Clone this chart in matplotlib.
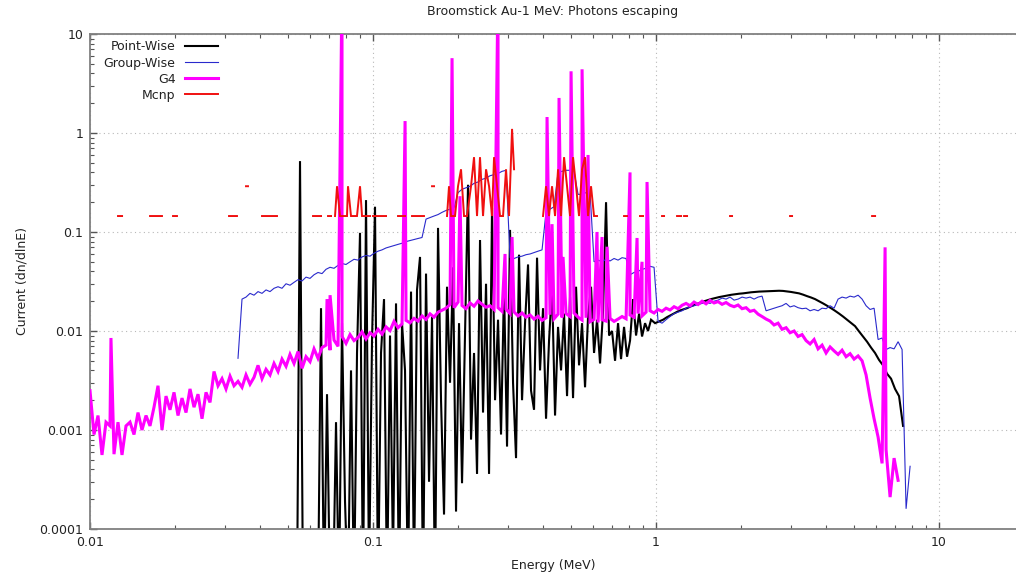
import numpy as np
import matplotlib
matplotlib.use("Agg")
import matplotlib.pyplot as plt
from matplotlib.ticker import LogLocator, NullFormatter, FixedLocator, FixedFormatter

TITLE = "Broomstick Au-1 MeV: Photons escaping"
X_LABEL = "Energy (MeV)"
Y_LABEL = "Current (dn/dlnE)"
SERIES_NAMES = ["Point-Wise", "Group-Wise", "G4", "Mcnp"]

X_TICKS = [0.01, 0.1, 1, 10]
X_TICK_LABELS = ["0.01", "0.1", "1", "10"]
Y_TICKS = [1e-4, 1e-3, 1e-2, 1e-1, 1, 10]
Y_TICK_LABELS = ["0.0001", "0.001", "0.01", "0.1", "1", "10"]
X_RANGE = (0.01, 18.7)
Y_RANGE = (1e-4, 10)

# ---------------- Point-Wise (log-uniform bins) ----------------
PW_LOW_E_FIRST, PW_LOW_E_LAST = 0.05388, 0.9602
PW_LOW = [
    2e-5, 0.52, 2e-5, 2e-5, 2e-5, 2e-5, 2e-5, 2e-5, 0.017, 2e-5,
    0.0023, 2e-5, 2e-5, 0.0012, 2e-5, 0.012, 1.9e-4, 2e-5, 0.004, 2e-5,
    0.006, 0.098, 2e-5, 0.21, 3e-5, 0.008, 0.18, 2e-5, 0.006, 0.021,
    2e-5, 0.009, 5e-5, 0.019, 2e-5, 0.012, 0.004, 2e-5, 0.025, 3e-5,
    0.026, 0.056, 2e-5, 0.038, 3e-4, 0.014, 2e-5, 0.11, 0.002, 1.4e-4,
    0.028, 0.003, 0.044, 1.5e-4, 0.012, 2.9e-4, 0.009, 0.3, 0.0008, 0.006,
    3.6e-4, 0.083, 0.0015, 0.03, 3.6e-4, 0.175, 0.002, 0.013, 0.0009, 0.028,
    6.8e-4, 0.105, 0.003, 5.2e-4, 0.059, 0.002, 0.012, 0.047, 0.0025, 0.0016,
    0.055, 0.004, 0.017, 0.0013, 0.008, 0.028, 0.0014, 0.011, 0.004, 0.015,
    0.0022, 0.022, 0.0021, 0.028, 0.0045, 0.012, 0.0027, 0.014, 0.028, 0.006,
    0.013, 0.0047, 0.016, 0.2, 0.009, 0.01, 0.005, 0.012, 0.0052, 0.011,
    0.0055, 0.008, 0.021, 0.009, 0.015, 0.0088, 0.012, 0.01, 0.013,
]
PW_HIGH_E_FIRST, PW_HIGH_E_LAST = 0.9919, 7.46
PW_HIGH = [
    0.012, 0.0125, 0.013, 0.0138, 0.0145, 0.0152, 0.016, 0.0165, 0.017, 0.0178,
    0.0185, 0.0191, 0.0198, 0.0204, 0.021, 0.0215, 0.022, 0.0224, 0.0228, 0.0232,
    0.0235, 0.0238, 0.024, 0.0243, 0.0246, 0.0248, 0.025, 0.0251, 0.0252, 0.0253,
    0.0254, 0.0255, 0.0254, 0.0251, 0.0248, 0.0244, 0.024, 0.0233, 0.0225, 0.0218,
    0.021, 0.020, 0.019, 0.018, 0.017, 0.016, 0.015, 0.014, 0.013, 0.0121,
    0.0112, 0.0099, 0.0088, 0.0078, 0.0068, 0.0060, 0.0051, 0.0045, 0.0037, 0.0033,
    0.0026, 0.0022, 0.0011,
]

# ---------------- Group-Wise (log-uniform bins) ----------------
GW_E_FIRST, GW_E_LAST = 0.03334, 7.90
GW = [
    0.0053, 0.021, 0.022, 0.024, 0.023, 0.025, 0.024, 0.026, 0.025, 0.027,
    0.028, 0.027, 0.030, 0.029, 0.031, 0.033, 0.032, 0.035, 0.034, 0.037,
    0.039, 0.038, 0.042, 0.044, 0.043, 0.046, 0.048, 0.047, 0.050, 0.053,
    0.052, 0.056, 0.058, 0.057, 0.061, 0.064, 0.066, 0.069, 0.071, 0.073,
    0.075, 0.077, 0.080, 0.082, 0.084, 0.086, 0.088, 0.135, 0.140, 0.145,
    0.150, 0.158, 0.165, 0.170, 0.175, 0.250, 0.270, 0.280, 0.290, 0.310,
    0.320, 0.340, 0.350, 0.370, 0.380, 0.390, 0.410, 0.420, 0.055, 0.054,
    0.056, 0.057, 0.059, 0.060, 0.062, 0.064, 0.066, 0.160, 0.170, 0.180,
    0.400, 0.410, 0.420, 0.420, 0.410, 0.240, 0.240, 0.250, 0.250, 0.050,
    0.052, 0.050, 0.053, 0.051, 0.054, 0.052, 0.055, 0.054, 0.037, 0.039,
    0.040, 0.042, 0.043, 0.045, 0.044, 0.0125, 0.012, 0.013, 0.014, 0.015,
    0.0155, 0.016, 0.017, 0.0175, 0.018, 0.0185, 0.019, 0.0195, 0.019, 0.020,
    0.0205, 0.0215, 0.021, 0.022, 0.0205, 0.021, 0.022, 0.0215, 0.022, 0.021,
    0.022, 0.0225, 0.016, 0.0165, 0.017, 0.0175, 0.018, 0.019, 0.0175, 0.018,
    0.0172, 0.0168, 0.017, 0.016, 0.0165, 0.016, 0.017, 0.0168, 0.018, 0.017,
    0.021, 0.022, 0.0215, 0.0225, 0.022, 0.023, 0.021, 0.018, 0.0165, 0.017,
    0.0082, 0.0085, 0.0065, 0.0068, 0.0066, 0.0078, 0.0065, 0.00016, 0.00043,
]

# ---------------- G4 (log-uniform bins + line peaks) ----------------
G4_E_FIRST, G4_E_LAST = 0.01, 7.165
G4_BASE = [
    0.0025, 0.0009, 0.0014, 0.00056, 0.0012, 0.0011, 0.00057, 0.0012, 0.00056, 0.0011,
    0.0012, 0.0009, 0.0015, 0.0010, 0.0014, 0.0011, 0.0017, 0.0028, 0.0010, 0.0022,
    0.0016, 0.0024, 0.0014, 0.0021, 0.0015, 0.0026, 0.0017, 0.0023, 0.0013, 0.0024,
    0.0019, 0.0039, 0.0028, 0.0033, 0.0026, 0.0035, 0.0028, 0.0031, 0.0027, 0.0036,
    0.0029, 0.0034, 0.0045, 0.0033, 0.0041, 0.0036, 0.0047, 0.0039, 0.0052, 0.0044,
    0.0058, 0.0047, 0.0062, 0.0042, 0.0055, 0.0049, 0.0066, 0.0053, 0.0068, 0.0072,
    0.0064, 0.0081, 0.0070, 0.0088, 0.0075, 0.0092, 0.0080, 0.0086, 0.0098, 0.0083,
    0.0096, 0.0089, 0.0104, 0.0093, 0.0110, 0.0101, 0.0125, 0.0108, 0.0118, 0.0128,
    0.0121, 0.0134, 0.0126, 0.0142, 0.0131, 0.0149, 0.0138, 0.0155, 0.0162, 0.0170,
    0.0185, 0.0172, 0.0196, 0.0181, 0.0168, 0.0192, 0.0178, 0.0201, 0.0186, 0.0174,
    0.0180, 0.0165, 0.0172, 0.0158, 0.0166, 0.0150, 0.0156, 0.0142, 0.0152, 0.0138,
    0.0145, 0.0132, 0.0141, 0.0128, 0.0136, 0.0146, 0.0133, 0.0148, 0.0137, 0.0150,
    0.0140, 0.0152, 0.0138, 0.0129, 0.0136, 0.0124, 0.0131, 0.0122, 0.0130, 0.0126,
    0.0134, 0.0125, 0.0132, 0.0140, 0.0133, 0.0145, 0.0138, 0.0150, 0.0142, 0.0155,
    0.0160, 0.0152, 0.0165, 0.0158, 0.0170, 0.0163, 0.0176, 0.0168, 0.0182, 0.0190,
    0.0180, 0.0196, 0.0185, 0.0200, 0.0188, 0.0204, 0.0192, 0.0198, 0.0186, 0.0194,
    0.0182, 0.0176, 0.0183, 0.0168, 0.0172, 0.0158, 0.0162, 0.0148, 0.0140, 0.0132,
    0.0126, 0.0115, 0.0120, 0.0104, 0.0108, 0.0096, 0.0100, 0.0088, 0.0092, 0.0080,
    0.0074, 0.0082, 0.0066, 0.0072, 0.0060, 0.0069, 0.0063, 0.0058, 0.0064, 0.0055,
    0.0059, 0.0052, 0.0056, 0.0050, 0.0036, 0.0021, 0.0013, 0.00085, 0.00046, 0.00063,
    0.00021, 0.00052, 0.00031,
]
G4_LINE_E = [0.01186, 0.0688, 0.0705, 0.0777, 0.1298, 0.1902, 0.2029, 0.2765,
             0.2927, 0.3099, 0.412, 0.4291, 0.4542, 0.4692, 0.5009, 0.5478,
             0.5751, 0.6186, 0.6445, 0.6713, 0.8092, 0.8568, 0.8923, 0.9294, 6.446]
G4_LINE_PEAK = [0.0085, 0.021, 0.023, 30.0, 1.32, 5.7, 0.23, 30.0,
                0.06, 0.089, 1.45, 0.12, 2.26, 0.056, 4.2, 4.4,
                0.6, 0.1, 0.089, 0.071, 0.4, 0.087, 0.05, 0.32, 0.07]

# ---------------- Mcnp (segments; empty bins are gaps) ----------------
MCNP_SEG_E = [
    [0.01256, 0.01298], [0.01630, 0.01796], [0.01965, 0.02029],
    [0.03099, 0.03306], [0.03558, 0.03616], [0.04053, 0.04578],
    [0.06138, 0.06551], [0.06934, 0.07106],
    [0.07341, 0.07462, 0.07646, 0.07834, 0.08092, 0.08158, 0.08360, 0.08777, 0.08996, 0.09144],
    [0.09219, 0.09759], [0.1000, 0.11116], [0.12256, 0.1298], [0.13734, 0.15137],
    [0.16163, 0.16428],
    [0.18258, 0.18558, 0.18863, 0.19487, 0.19968, 0.20462, 0.20967, 0.21484,
     0.22195, 0.22744, 0.23306, 0.23878, 0.24475, 0.25083, 0.25702, 0.26336,
     0.26767, 0.27428, 0.28105, 0.28799, 0.29510, 0.30238, 0.3099, 0.31497],
    [0.39876, 0.40860, 0.41869, 0.4291, 0.43971, 0.45057, 0.46170, 0.47310,
     0.48478, 0.49675, 0.50901, 0.52158, 0.53446, 0.5478, 0.56117, 0.5751,
     0.58922, 0.60377, 0.6186],
    [0.7708, 0.7899], [0.8777, 0.8996], [1.050, 1.0673], [1.1864, 1.2257],
    [1.2560, 1.2869], [1.8258, 1.8558], [2.975, 3.024], [5.799, 5.942],
]
MCNP_SEG_V = [
    [0.145, 0.145], [0.145, 0.145], [0.145, 0.145],
    [0.145, 0.145], [0.29, 0.29], [0.145, 0.145],
    [0.145, 0.145], [0.145, 0.145],
    [0.145, 0.29, 0.145, 0.145, 0.145, 0.29, 0.145, 0.145, 0.29, 0.145],
    [0.145, 0.145], [0.145, 0.145], [0.145, 0.145], [0.145, 0.145],
    [0.29, 0.29],
    [0.145, 0.29, 0.145, 0.145, 0.29, 0.43, 0.145, 0.145,
     0.29, 0.57, 0.145, 0.57, 0.145, 0.43, 0.29, 0.145,
     0.57, 0.29, 0.145, 0.145, 0.43, 0.145, 1.1, 0.43],
    [0.145, 0.29, 0.145, 0.29, 0.145, 0.43, 0.145, 0.57,
     0.29, 0.145, 0.57, 0.29, 0.145, 0.43, 0.57, 0.145,
     0.29, 0.145, 0.145],
    [0.145, 0.145], [0.145, 0.145], [0.145, 0.145], [0.145, 0.145],
    [0.145, 0.145], [0.145, 0.145], [0.145, 0.145], [0.145, 0.145],
]

COLORS = ["#000000", "#2a2acc", "#ff00ff", "#f01010"]
WIDTHS = [1.5, 0.8, 2.2, 1.4]

# ---------------- build arrays ----------------
pw_e = np.concatenate([np.geomspace(PW_LOW_E_FIRST, PW_LOW_E_LAST, len(PW_LOW)),
                       np.geomspace(PW_HIGH_E_FIRST, PW_HIGH_E_LAST, len(PW_HIGH))])
pw_v = np.array(PW_LOW + PW_HIGH)

gw_e = np.geomspace(GW_E_FIRST, GW_E_LAST, len(GW))
gw_v = np.array(GW)

g4_e = np.concatenate([np.geomspace(G4_E_FIRST, G4_E_LAST, len(G4_BASE)), G4_LINE_E])
g4_v = np.concatenate([G4_BASE, G4_LINE_PEAK])
order = np.argsort(g4_e)
g4_e, g4_v = g4_e[order], g4_v[order]

mc_e, mc_v = [], []
for se, sv in zip(MCNP_SEG_E, MCNP_SEG_V):
    mc_e += list(se) + [np.nan]
    mc_v += list(sv) + [np.nan]
mc_e, mc_v = np.array(mc_e), np.array(mc_v)

# ---------------- figure ----------------
W, H = 1016, 575
fig = plt.figure(figsize=(W / 100, H / 100), dpi=100)
ax = fig.add_axes([90 / W, 1 - 529 / H, 926 / W, 495 / H])
ax.set_xscale("log")
ax.set_yscale("log")

lines = []
for (e, v), name, c, lw, z in zip([(pw_e, pw_v), (gw_e, gw_v), (g4_e, g4_v), (mc_e, mc_v)],
                                  SERIES_NAMES, COLORS, WIDTHS, [2, 3, 4, 5]):
    ln, = ax.plot(e, v, color=c, lw=lw, label=name, zorder=z, solid_joinstyle="miter")
    lines.append(ln)

ax.set_xlim(*X_RANGE)
ax.set_ylim(*Y_RANGE)

ax.xaxis.set_major_locator(FixedLocator(X_TICKS))
ax.xaxis.set_major_formatter(FixedFormatter(X_TICK_LABELS))
ax.yaxis.set_major_locator(FixedLocator(Y_TICKS))
ax.yaxis.set_major_formatter(FixedFormatter(Y_TICK_LABELS))
ax.xaxis.set_minor_locator(LogLocator(base=10, subs=np.arange(2, 10), numticks=20))
ax.yaxis.set_minor_locator(LogLocator(base=10, subs=np.arange(2, 10), numticks=20))
ax.xaxis.set_minor_formatter(NullFormatter())
ax.yaxis.set_minor_formatter(NullFormatter())

ax.tick_params(which="both", direction="in", top=True, right=False,
               colors="#555555", labelcolor="#222222", labelsize=9)
ax.tick_params(which="major", length=5, width=1.0, pad=5)
ax.tick_params(which="minor", length=3, width=0.8)

for s in ["left", "bottom", "top"]:
    ax.spines[s].set_color("#808080")
    ax.spines[s].set_linewidth(1.3)
ax.spines["right"].set_visible(False)

ax.grid(which="major", linestyle=(0, (1, 3)), color="#b8b8b8", linewidth=0.8)
ax.set_axisbelow(True)

leg = ax.legend(handles=lines, loc="upper left", bbox_to_anchor=(0.012, 0.992),
                markerfirst=False, frameon=False, fontsize=9, handlelength=2.6,
                handletextpad=0.8, labelspacing=0.25, borderaxespad=0.0, borderpad=0.2)
for t in leg.get_texts():
    t.set_color("#222222")

fig.text(553 / W, 1 - 12 / H, TITLE, ha="center", va="center", fontsize=9, color="#222222")
fig.text(553 / W, 1 - 566 / H, X_LABEL, ha="center", va="center", fontsize=9, color="#222222")
fig.text(22 / W, 1 - 281 / H, Y_LABEL, ha="center", va="center", rotation=90,
         fontsize=9, color="#222222")

fig.savefig("out.png", dpi=100)
